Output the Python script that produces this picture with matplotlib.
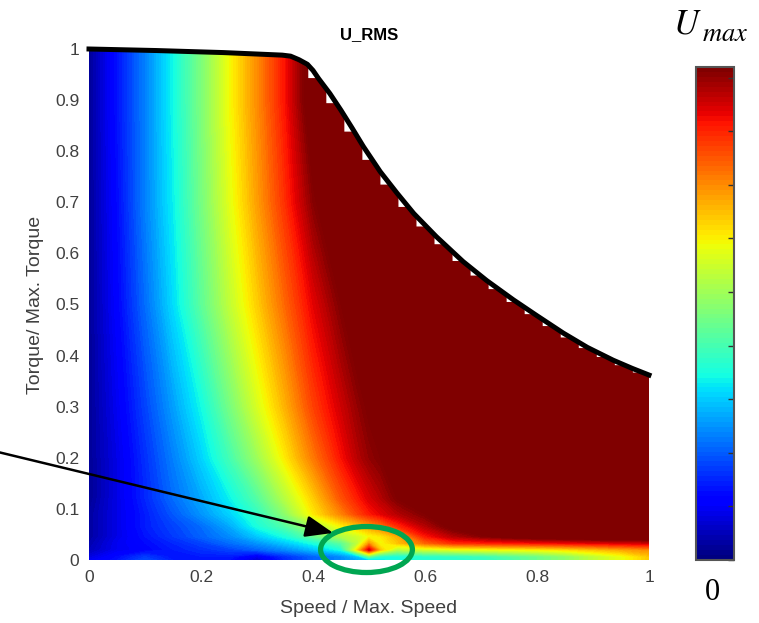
import numpy as np
import matplotlib
matplotlib.use('Agg')
import matplotlib.pyplot as plt
from matplotlib.patches import Ellipse, Polygon
from matplotlib.cm import ScalarMappable
from matplotlib.colors import Normalize

# grid (U / Umax, >1 = saturated dark red)
speed = [0, 0.05, 0.1, 0.15, 0.2, 0.25, 0.3, 0.35, 0.4, 0.45, 0.48, 0.5,
         0.52, 0.55, 0.6, 0.65, 0.7, 0.75, 0.8, 0.85, 0.9, 0.95, 1.0]
torque = [0, 0.007, 0.02, 0.033, 0.046, 0.066, 0.09, 0.12, 0.2, 0.3, 0.5, 0.7, 0.9, 1.0]

u_rms = [
    # torque 0
    [.10, .14, .20, .15, .15, .14, .07, .16, .22, .26, .29, .32, .35, .37, .40, .40, .41, .44, .48, .52, .58, .63, .70],
    # 0.007
    [.08, .13, .18, .14, .15, .15, .10, .17, .22, .26, .32, .48, .40, .38, .40, .41, .42, .45, .48, .52, .58, .63, .70],
    # 0.02
    [.05, .10, .12, .15, .17, .19, .22, .26, .31, .38, .68, .93, .70, .57, .60, .62, .63, .64, .65, .67, .70, .73, .76],
    # 0.033
    [.04, .10, .13, .16, .19, .23, .27, .32, .38, .46, .58, .74, .64, .70, .80, .86, .87, .88, .89, .90, .91, .92, .93],
    # 0.046
    [.03, .09, .14, .18, .22, .26, .32, .38, .47, .56, .60, .64, .66, .72, .88, .95, .99, 1.02, 1.04, 1.05, 1.06, 1.06, 1.06],
    # 0.066
    [.03, .09, .15, .19, .23, .29, .38, .45, .55, .65, .70, .74, .78, .86, .95, 1.02, 1.06, 1.08, 1.1, 1.1, 1.1, 1.1, 1.1],
    # 0.09
    [.03, .09, .15, .21, .27, .33, .41, .52, .66, .77, .84, .88, .91, .95, 1.0, 1.04, 1.07, 1.1, 1.1, 1.1, 1.1, 1.1, 1.1],
    # 0.12
    [.02, .09, .16, .23, .29, .36, .45, .57, .69, .82, .88, .92, .95, 1.0, 1.04, 1.08, 1.1, 1.1, 1.1, 1.1, 1.1, 1.1, 1.1],
    # 0.2
    [.02, .09, .17, .25, .33, .43, .54, .66, .78, .89, .95, .98, 1.0, 1.04, 1.08, 1.1, 1.1, 1.1, 1.1, 1.1, 1.1, 1.1, 1.1],
    # 0.3
    [.02, .10, .19, .28, .37, .49, .61, .72, .84, .93, .98, 1.01, 1.04, 1.07, 1.1, 1.1, 1.1, 1.1, 1.1, 1.1, 1.1, 1.1, 1.1],
    # 0.5
    [.02, .12, .23, .34, .46, .58, .69, .80, .91, 1.0, 1.05, 1.08, 1.1, 1.1, 1.1, 1.1, 1.1, 1.1, 1.1, 1.1, 1.1, 1.1, 1.1],
    # 0.7
    [.02, .13, .25, .36, .49, .62, .74, .86, .99, 1.08, 1.1, 1.1, 1.1, 1.1, 1.1, 1.1, 1.1, 1.1, 1.1, 1.1, 1.1, 1.1, 1.1],
    # 0.9
    [.02, .14, .25, .37, .50, .64, .76, .89, 1.05, 1.1, 1.1, 1.1, 1.1, 1.1, 1.1, 1.1, 1.1, 1.1, 1.1, 1.1, 1.1, 1.1, 1.1],
    # 1.0
    [.02, .14, .25, .37, .50, .64, .76, .89, 1.05, 1.1, 1.1, 1.1, 1.1, 1.1, 1.1, 1.1, 1.1, 1.1, 1.1, 1.1, 1.1, 1.1, 1.1],
]

# max torque envelope (black line)
env_speed = [0, 0.12, 0.24, 0.345, 0.36, 0.375, 0.39, 0.40, 0.41, 0.43, 0.45, 0.47,
             0.49, 0.52, 0.55, 0.58, 0.62, 0.668, 0.71, 0.758, 0.80, 0.847, 0.89,
             0.936, 0.97, 1.0]
env_torque = [1.0, 0.997, 0.993, 0.988, 0.986, 0.979, 0.970, 0.958, 0.942, 0.913, 0.880, 0.845,
              0.809, 0.760, 0.718, 0.678, 0.633, 0.584, 0.547, 0.509, 0.478, 0.444, 0.416,
              0.391, 0.375, 0.362]

x_ticks = [0, 0.2, 0.4, 0.6, 0.8, 1]
x_labels = ['0', '0.2', '0.4', '0.6', '0.8', '1']
y_ticks = [0, 0.1, 0.2, 0.3, 0.4, 0.5, 0.6, 0.7, 0.8, 0.9, 1]
y_labels = ['0', '0.1', '0.2', '0.3', '0.4', '0.5', '0.6', '0.7', '0.8', '0.9', '1']
cbar_ticks = [0, 0.1087, 0.2174, 0.3261, 0.4348, 0.5435, 0.6522, 0.7609, 0.8696, 0.9783]

plt.rcParams['font.family'] = ['Liberation Sans', 'DejaVu Sans']
plt.rcParams['mathtext.fontset'] = 'stix'

fig = plt.figure(figsize=(7.59, 6.23), dpi=100)
ax = fig.add_axes([89/759, 63/623, 560/759, 511/623])

cs = ax.contourf(speed, torque, u_rms, levels=np.linspace(0, 1, 101),
                 cmap='jet', extend='both')

# data only exists below the envelope, on a coarse speed grid -> small notches
step = 0.0322
steps = np.arange(0.3916, 1.0, step)
poly = [(0, 0)]
for s, t in zip(env_speed, env_torque):
    if s < steps[0]:
        poly.append((s, t))
for s in steps:
    s2 = min(s + 0.55 * step, 1.0)
    t0 = np.interp(s, env_speed, env_torque)
    t1 = np.interp(s2, env_speed, env_torque)
    poly += [(s, t0), (s, t1), (s2, t1)]
poly += [(1.0, env_torque[-1]), (1.0, 0)]
hull = Polygon(poly, closed=True, fc='none', ec='none')
ax.add_patch(hull)
cs.set_clip_path(hull)

ax.plot(env_speed, env_torque, color='k', lw=3.6, clip_on=False,
        solid_joinstyle='round')

ax.set_xlim(0, 1)
ax.set_ylim(0, 1)
for sp in ax.spines.values():
    sp.set_visible(False)
ax.set_xticks(x_ticks)
ax.set_xticklabels(x_labels)
ax.set_yticks(y_ticks)
ax.set_yticklabels(y_labels)
ax.tick_params(length=0, labelsize=12.5, colors='#404040', pad=7)
ax.set_title('U_RMS', fontweight='bold', fontsize=12, pad=7)
ax.set_xlabel('Speed / Max. Speed', fontsize=14, color='#404040', labelpad=11)
ax.set_ylabel('Torque/ Max. Torque', fontsize=14, color='#404040', labelpad=8)

# highlighted spot + arrow
ax.add_patch(Ellipse((0.4955, 0.0205), 0.164, 0.09, fill=False,
                     ec='#00A651', lw=3.8, clip_on=False))
ax.annotate('', xy=(0.436, 0.053), xytext=(-0.165, 0.212),
            annotation_clip=False,
            arrowprops=dict(arrowstyle='-|>,head_length=0.85,head_width=0.33',
                            lw=1.8, color='k', mutation_scale=20,
                            shrinkA=0, shrinkB=0))

# colorbar
cax = fig.add_axes([696/759, 63/623, 38/759, 493/623])
sm = ScalarMappable(norm=Normalize(0, 1), cmap=plt.get_cmap('jet', 100))
cb = fig.colorbar(sm, cax=cax)
cb.set_ticks(cbar_ticks)
cax.tick_params(direction='in', length=4, width=1, color='#333333',
                labelright=False, right=True)
cb.outline.set_edgecolor('#555555')
cb.outline.set_linewidth(1.5)

fig.text(673/759, 1 - 33/623, r'$U$', fontsize=25, ha='left', va='baseline')
fig.text(702/759, 1 - 41/623, r'$max$', fontsize=19, ha='left', va='baseline')
fig.text(712/759, 1 - 592/623, '0', family='Liberation Serif', fontsize=22,
         ha='center', va='center')

fig.savefig('out.png', dpi=100)
